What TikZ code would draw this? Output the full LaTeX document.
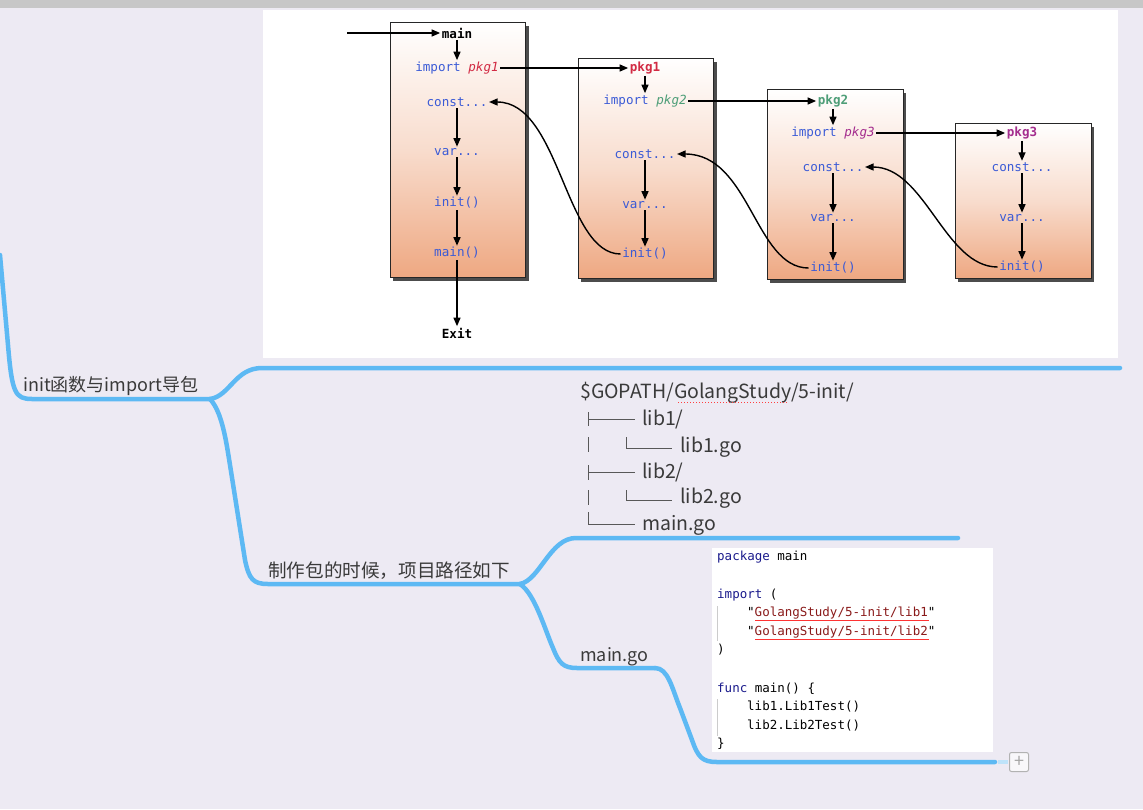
\documentclass[tikz,border=0pt]{standalone}
\usepackage{fontspec}
\setmainfont{Noto Sans CJK SC}
\newfontfamily\dmono{DejaVu Sans Mono}
\newfontfamily\cmono{DejaVu Sans Mono}
\usetikzlibrary{arrows.meta,calc}
\definecolor{bg}{HTML}{EDEAF3}
\definecolor{mind}{HTML}{5DB9F3}
\definecolor{peach}{HTML}{EEA882}
\definecolor{kw}{HTML}{3A5AD6}
\definecolor{pka}{HTML}{D22B44}
\definecolor{pkb}{HTML}{4E9E78}
\definecolor{pkc}{HTML}{A42D8E}
\definecolor{navy}{HTML}{1A1A8C}
\definecolor{strc}{HTML}{8A1A1A}
\definecolor{txt}{HTML}{3A3A3A}
\tikzset{
 dtext/.style={font=\dmono\fontsize{12.6}{15}\selectfont, text=kw, inner sep=1.5pt},
 dbold/.style={font=\dmono\bfseries\fontsize{12.6}{15}\selectfont, inner sep=1.5pt},
 arr/.style={-{Triangle[length=8.5pt,width=7pt]}, line width=1.4pt, draw=black},
 pbox/.style={draw=black!85, line width=1pt, top color=white, bottom color=peach, middle color=peach!40},
 pshadow/.style={fill=black!70},
 mline/.style={draw=mind, line width=4.5pt, line cap=round, line join=round},
 mtext/.style={font=\fontsize{18}{21}\selectfont, text=txt, anchor=base west, inner sep=0pt},
 ttext/.style={font=\fontsize{19.5}{22}\selectfont, text=txt, anchor=base west, inner sep=0pt},
 ctext/.style={font=\cmono\fontsize{12.5}{15}\selectfont, anchor=base west, inner sep=0pt},
 treeline/.style={draw=txt!85, line width=0.9pt},
}
\begin{document}
\begin{tikzpicture}[x=1pt,y=-1pt]
\useasboundingbox (0,0) rectangle (1143,809);
% background
\fill[bg] (0,0) rectangle (1143,809);
\fill[black!22] (0,0) rectangle (1143,8);
\fill[white] (263,10) rectangle (1118,358);

% ---------- boxes ----------
\fill[pshadow] (393,26) rectangle (529,281);
\shade[pbox] (390,22) rectangle (525,277);
\fill[pshadow] (581,62) rectangle (717,282);
\shade[pbox] (578,58) rectangle (713,278);
\fill[pshadow] (770,93) rectangle (906,283);
\shade[pbox] (767,89) rectangle (903,279);
\fill[pshadow] (958,127) rectangle (1094,282);
\shade[pbox] (955,123) rectangle (1091,278);

% box 1
\node[dbold] (ma) at (457,33) {main};
\node[dtext] (ia) at (457,68) {import \textcolor{pka}{\itshape pkg1}};
\node[dtext] (ca) at (457,102) {const...};
\node[dtext] (va) at (457,152) {var...};
\node[dtext] (na) at (457,203) {init()};
\node[dtext] (mm) at (457,253) {main()};
\node[dbold] (ex) at (457,333) {Exit};
\coordinate (entry) at (347,33);
\draw[arr] (entry) -- (ma.west);
\draw[arr] (ma) -- (ia);
\draw[arr] (ca) -- (va);
\draw[arr] (va) -- (na);
\draw[arr] (na) -- (mm);
\draw[arr] (mm) -- (ex);

% box 2
\node[dbold, text=pka] (pa) at (645,68) {pkg1};
\node[dtext] (ib) at (645,101) {import \textcolor{pkb}{\itshape pkg2}};
\node[dtext] (cb) at (645,154) {const...};
\node[dtext] (vb) at (645,205) {var...};
\node[dtext] (nb) at (645,254) {init()};
\draw[arr] (ia.east) -- (pa.west);
\draw[arr] (pa) -- (ib);
\draw[arr] (cb) -- (vb);
\draw[arr] (vb) -- (nb);

% box 3
\node[dbold, text=pkb] (pb) at (833,101) {pkg2};
\node[dtext] (ic) at (833,133) {import \textcolor{pkc}{\itshape pkg3}};
\node[dtext] (cc) at (833,167) {const...};
\node[dtext] (vc) at (833,218) {var...};
\node[dtext] (nc) at (833,268) {init()};
\draw[arr] (ib.east) -- (pb.west);
\draw[arr] (pb) -- (ic);
\draw[arr] (cc) -- (vc);
\draw[arr] (vc) -- (nc);

% box 4
\node[dbold, text=pkc] (pc) at (1022,133) {pkg3};
\node[dtext] (cd) at (1022,167) {const...};
\node[dtext] (vd) at (1022,218) {var...};
\node[dtext] (nd) at (1022,267) {init()};
\draw[arr] (ic.east) -- (pc.west);
\draw[arr] (pc) -- (cd);
\draw[arr] (cd) -- (vd);
\draw[arr] (vd) -- (nd);

% back curves
\draw[arr] (nb.west) .. controls (565,254) and (560,102) .. (ca.east);
\draw[arr] (nc.west) .. controls (755,268) and (750,154) .. (cb.east);
\draw[arr] (nd.west) .. controls (945,267) and (925,167) .. (cc.east);

% ---------- mind map lines ----------
\draw[mline] (0,255) -- (8,345) .. controls (12,393) and (15,399) .. (32,399) -- (210,399);
\draw[mline] (210,399) .. controls (230,396) and (235,368) .. (262,368) -- (1120,368);
\draw[mline] (210,399) .. controls (222,412) and (226,440) .. (230,465) -- (245,560) .. controls (249,579) and (253,584) .. (268,584) -- (520,584);
\draw[mline] (520,584) .. controls (540,580) and (550,538) .. (576,538) -- (958,538);
\draw[mline] (520,584) .. controls (535,594) and (545,630) .. (553,648) .. controls (559,663) and (563,668) .. (577,668) -- (655,668);
\draw[mline] (655,668) .. controls (668,668) and (672,688) .. (680,708) -- (692,740) .. controls (698,757) and (702,762) .. (717,762) -- (995,762);
\draw[draw=mind!40, line width=4pt] (998,762) -- (1008,762);

% ---------- mind map texts ----------
\node[mtext] (t1) at (23,391) {init函数与import导包};
\node[mtext, font=\fontsize{18.6}{21}\selectfont] (t2) at (268,577) {制作包的时候，项目路径如下};
\node[mtext] (t3) at (580,661) {main.go};

% tree
\node[ttext] (g0) at (580,398) {\$GOPATH/GolangStudy/5-init/};
\node[ttext] (g1) at (642,425) {lib1/};
\node[ttext] (g2) at (680,452) {lib1.go};
\node[ttext] (g3) at (642,478) {lib2/};
\node[ttext] (g4) at (680,503) {lib2.go};
\node[ttext] (g5) at (642,530) {main.go};
\draw[red!75, line width=1pt, dotted] (678,402.5) -- (788,402.5);
\draw[treeline] (588,412) -- (588,426) (588,419) -- (635,419);
\draw[treeline] (588,437) -- (588,452);
\draw[treeline] (626,437) -- (626,448) -- (672,448);
\draw[treeline] (588,465) -- (588,480) (588,472) -- (635,472);
\draw[treeline] (588,490) -- (588,505);
\draw[treeline] (626,490) -- (626,500) -- (672,500);
\draw[treeline] (588,512) -- (588,524) -- (635,524);

% code panel
\fill[white] (712,548) rectangle (993,752);
\draw[black!20, line width=0.8pt] (717,606) -- (717,641) (717,699) -- (717,736);
\node[ctext] (k1) at (717,560) {\textcolor{navy}{package} main};
\node[ctext] (k2) at (717,598) {\textcolor{navy}{import} (};
\node[ctext] (k3) at (747,616) {"\textcolor{strc}{GolangStudy/5-init/lib1}"};
\node[ctext] (k4) at (747,635) {"\textcolor{strc}{GolangStudy/5-init/lib2}"};
\node[ctext] (k5) at (717,653) {)};
\node[ctext] (k6) at (717,692) {\textcolor{navy}{func} main() \{};
\node[ctext] (k7) at (747,710) {lib1.Lib1Test()};
\node[ctext] (k8) at (747,729) {lib2.Lib2Test()};
\node[ctext] (k9) at (717,747) {\}};
\draw[red!80, line width=0.9pt] (755,620) -- (929,620) (755,639) -- (929,639);

% plus button
\node[draw=black!30, fill=white!60!bg, rounded corners=2pt, minimum width=19pt, minimum height=19pt, line width=1pt, inner sep=0pt, font=\fontsize{18}{18}\selectfont, text=black!35] (plus) at (1019,762) {+};
\end{tikzpicture}
\end{document}
